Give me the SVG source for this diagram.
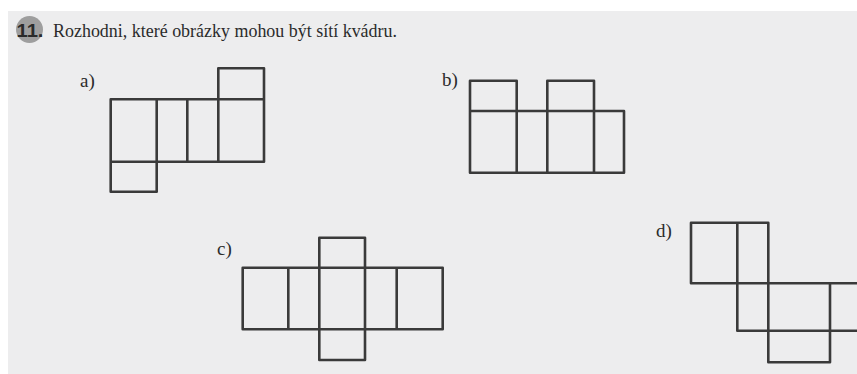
<svg xmlns="http://www.w3.org/2000/svg" width="857" height="374" viewBox="0 0 857 374">
<style>
.t{font-family:"Liberation Serif",serif;font-size:19px;fill:#2b2b2b}
.n{fill:none;stroke:#3a3a3a;stroke-width:2.6;stroke-linejoin:round;stroke-linecap:round}
</style>
<rect x="0" y="0" width="857" height="374" fill="#ffffff"/>
<rect x="8" y="11" width="849" height="363" fill="#ededee"/>
<g id="title">
<circle cx="29.5" cy="29.5" r="13.5" fill="#9e9e9e"/>
<text x="16.5" y="37" font-family="Liberation Sans,sans-serif" font-weight="bold" font-size="19" fill="#2a2a2a" textLength="27" lengthAdjust="spacingAndGlyphs">11.</text>
<text class="t" x="53" y="37" font-size="20.5" textLength="344" lengthAdjust="spacingAndGlyphs">Rozhodni, které obrázky mohou být sítí kvádru.</text>
</g>
<g id="net-a">
<text class="t" x="80" y="87">a)</text>
<path class="n" d="M110.7 99.3H264V161.7H110.7Z M156.7 99.3V191.7H110.7V161.7 M187.3 99.3V161.7 M218.3 161.7V68.3H264V99.3"/>
</g>
<g id="net-b">
<text class="t" x="442" y="86">b)</text>
<path class="n" d="M470 111H624V172.7H470Z M470 111V80.7H516.7V172.7 M547.3 172.7V80.7H594V172.7"/>
</g>
<g id="net-c">
<text class="t" x="217" y="255">c)</text>
<path class="n" d="M242.7 267.7H442.7V329.3H242.7Z M288.3 267.7V329.3 M396.7 267.7V329.3 M319.3 329.3V237.7H365V360H319.3V329.3"/>
</g>
<g id="net-d">
<text class="t" x="656" y="237">d)</text>
<path class="n" d="M691 283.3V222.7H768.3V362.3H830V283.3 M691 283.3H860 M737.3 222.7V330.7H860"/>
</g>
</svg>
